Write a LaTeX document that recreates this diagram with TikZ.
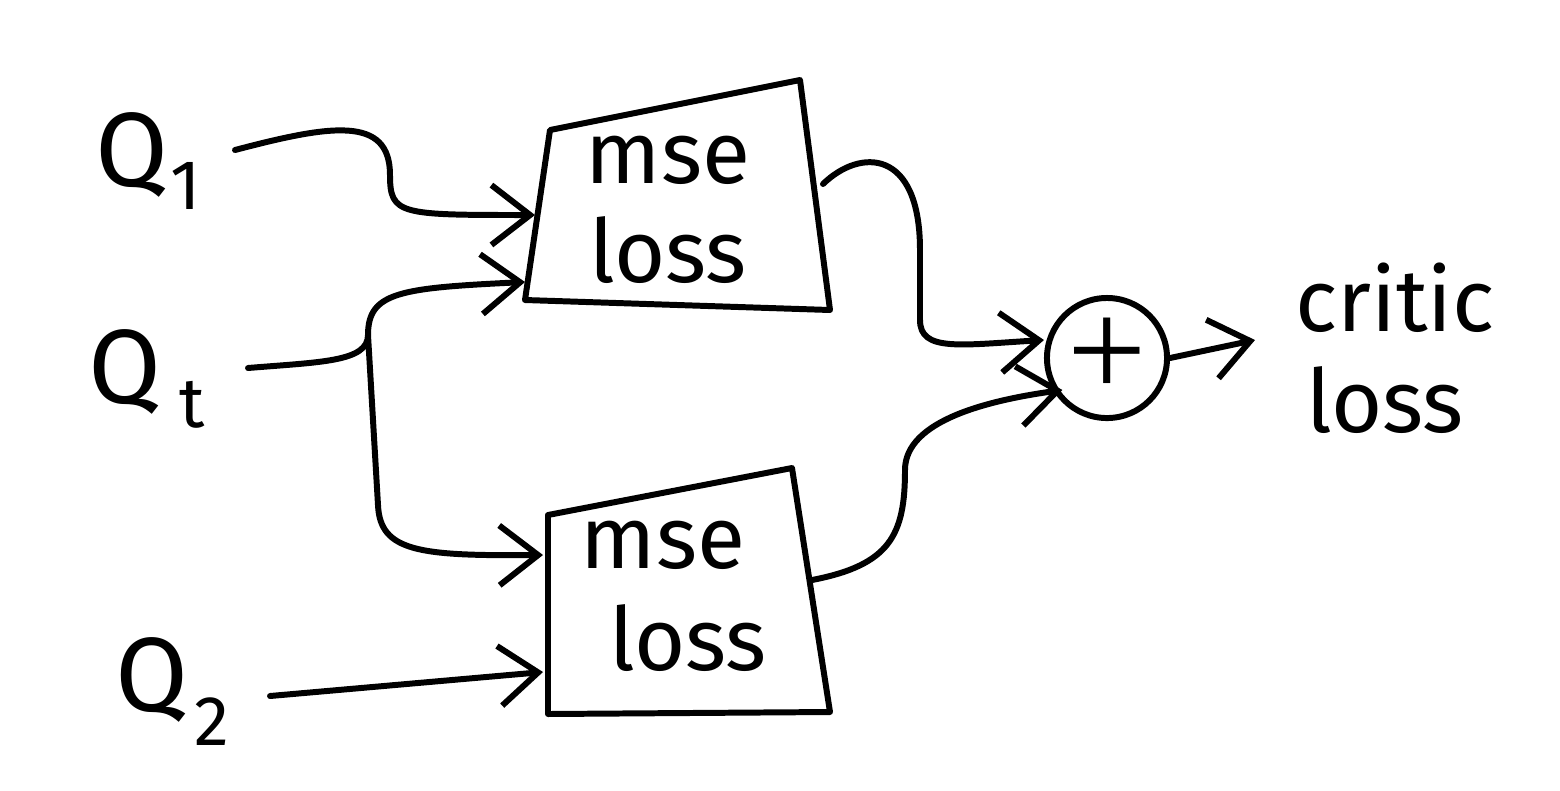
\documentclass[tikz,border=0pt]{standalone}
\usepackage{fontspec}
\setmainfont{Fira Sans}
\newfontfamily\plusfont{Liberation Serif}
\usetikzlibrary{arrows.meta}
\begin{document}
\begin{tikzpicture}[x=0.01cm,y=-0.01cm,
  line width=1.7pt, line cap=round, line join=round,
  wire/.style={-{Straight Barb[length=11pt,width=17pt,line width=1.7pt]}},
  lbl/.style={font=\fontsize{25}{30}\selectfont, inner sep=0pt},
  qlbl/.style={font=\fontsize{30}{34}\selectfont, inner sep=0pt},
  sub/.style={font=\fontsize{20}{24}\selectfont, inner sep=0pt}]
\useasboundingbox (0,0) rectangle (1560,790);

% inputs
\node[qlbl] (q1) at (132,155) {Q};
\node[sub] (q1s) at (186,186) {1};
\node[qlbl] (qt) at (125,372) {Q};
\node[sub] (qts) at (192,405) {t};
\node[qlbl] (q2) at (152,680) {Q};
\node[sub] (q2s) at (212,722) {2};

% upper mse loss block
\coordinate (a1) at (550,130);
\coordinate (a2) at (800,80);
\coordinate (a3) at (830,310);
\coordinate (a4) at (525,300);
\draw (a1) -- (a2) -- (a3) -- (a4) -- cycle;
\node[lbl] (m1) at (668,160) {mse};
\node[lbl] (l1) at (668,250) {loss};
\coordinate (in11) at (535,215);
\coordinate (in12) at (525,282);
\coordinate (out1) at (823,184);

% lower mse loss block
\coordinate (c1) at (548,515);
\coordinate (c2) at (792,468);
\coordinate (c3) at (830,712);
\coordinate (c4) at (548,714);
\draw (c1) -- (c2) -- (c3) -- (c4) -- cycle;
\node[lbl] (m2) at (663,545) {mse};
\node[lbl] (l2) at (688,638) {loss};
\coordinate (in21) at (543,555);
\coordinate (in22) at (543,672);
\coordinate (out2) at (812,580);

% summation
\node[circle, draw, minimum size=1.2cm, inner sep=0pt,
      font=\plusfont\fontsize{40}{40}\selectfont] (sum) at (1107,358) {+};

% output label
\node[lbl] (cr) at (1395,298) {critic};
\node[lbl] (cl) at (1385,400) {loss};

% wiring
\coordinate (q1o) at (235,150);
\coordinate (qto) at (248,368);
\coordinate (q2o) at (270,696);
\coordinate (split) at (368,335);

\draw[wire] (q1o) .. controls (330,125) and (390,115) .. (390,175)
  .. controls (390,215) and (400,215) .. (in11);
\draw (qto) .. controls (320,362) and (368,362) .. (split);
\draw[wire] (split) .. controls (368,292) and (400,288) .. (in12);
\draw[wire] (split) -- (378,505) .. controls (380,552) and (420,556) .. (in21);
\draw[wire] (q2o) -- (in22);
\draw[wire] (out1) .. controls (860,148) and (920,148) .. (920,250)
  -- (920,320) .. controls (920,352) and (960,345) .. (sum.west |- 0,340);
\draw[wire] (out2) .. controls (890,565) and (905,535) .. (905,470)
  .. controls (905,420) and (990,400) .. (sum.south west |- 0,390);
\draw[wire] (sum.east) -- (1255,340);
\end{tikzpicture}
\end{document}
